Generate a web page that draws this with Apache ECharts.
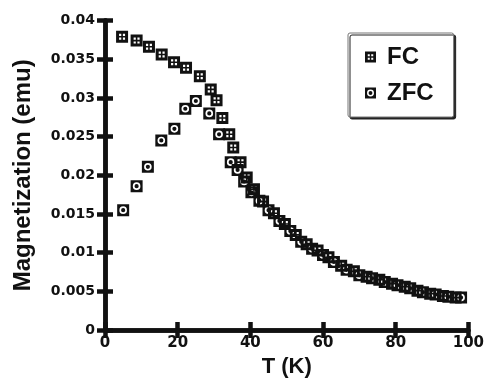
<!DOCTYPE html>
<html>
<head>
<meta charset="utf-8">
<script src="https://cdn.jsdelivr.net/npm/echarts@6/dist/echarts.min.js"></script>
<style>html,body{margin:0;padding:0;background:#fff;}#c{width:487px;height:383px;}</style>
</head>
<body>
<div id="c"></div>
<script>
// FC data (temperature K, magnetization emu)
var fcT = [4.7, 8.7, 12.1, 15.6, 19.0, 22.3, 26.1, 29.1, 30.7, 32.3, 34.2, 35.3, 37.3, 39.0, 41.0, 43.5, 46.5, 49.5, 52.5, 55.5, 58.5, 61.5, 65.0, 68.5, 72.0, 75.5, 79.0, 82.5, 86.0, 89.5, 93.0, 96.5];
var fcM = [0.0379, 0.0374, 0.0366, 0.0356, 0.0346, 0.0339, 0.0328, 0.0311, 0.0297, 0.0274, 0.0253, 0.0236, 0.0217, 0.0197, 0.0182, 0.0166, 0.0151, 0.0137, 0.0123, 0.0111, 0.0103, 0.0094, 0.0083, 0.0076, 0.0069, 0.0065, 0.0060, 0.0056, 0.0051, 0.0047, 0.0044, 0.0042];
// ZFC data
var zfcT = [5.0, 8.7, 11.8, 15.5, 19.1, 22.1, 25.0, 28.7, 31.4, 34.6, 36.5, 38.3, 40.3, 42.5, 45.0, 48.0, 51.0, 54.0, 57.0, 60.0, 63.0, 66.5, 70.0, 73.5, 77.0, 80.5, 84.0, 87.5, 91.0, 94.5, 98.0];
var zfcM = [0.0155, 0.0186, 0.0211, 0.0245, 0.0260, 0.0286, 0.0296, 0.0280, 0.0253, 0.0217, 0.0207, 0.0192, 0.0178, 0.0167, 0.0155, 0.0141, 0.0128, 0.0114, 0.0105, 0.0097, 0.0088, 0.0078, 0.0071, 0.0067, 0.0062, 0.0058, 0.0054, 0.0049, 0.0046, 0.0043, 0.0042];
// axis ticks
var xTicks = [0, 20, 40, 60, 80, 100];
var yTicks = [0, 0.005, 0.01, 0.015, 0.02, 0.025, 0.03, 0.035, 0.04];

function zip(a, b) { return a.map(function (v, i) { return [v, b[i]]; }); }

var ink = '#111';
var fcSymbol = 'path://M0,0L12,0L12,12L0,12Z M3,3L3,5.2L5.2,5.2L5.2,3Z M6.8,3L6.8,5.2L9,5.2L9,3Z M3,6.8L3,9L5.2,9L5.2,6.8Z M6.8,6.8L6.8,9L9,9L9,6.8Z';
var zfcSymbol = 'path://M0,0L12,0L12,12L0,12Z M6,2.2A3.8,3.8 0 1 0 6,9.8A3.8,3.8 0 1 0 6,2.2Z M6,3.9A2.1,2.1 0 1 1 6,8.1A2.1,2.1 0 1 1 6,3.9Z';

var axisCommon = {
  min: 0,
  axisLine: { show: true, lineStyle: { color: ink, width: 4.5 } },
  axisTick: { show: true, inside: true, length: 8, lineStyle: { color: ink, width: 4.5 } },
  splitLine: { show: false }
};

var chart = echarts.init(document.getElementById('c'), null, { renderer: 'canvas' });
chart.setOption({
  animation: false,
  backgroundColor: '#fff',
  grid: { left: 105, right: 16.5, top: 20.5, bottom: 42, containLabel: false },
  xAxis: [
    Object.assign({}, axisCommon, {
      type: 'value', max: 100, interval: 20, position: 'bottom',
      name: 'T (K)', nameLocation: 'middle', nameGap: 20,
      nameTextStyle: { fontFamily: 'Liberation Sans', fontWeight: 'bold', fontSize: 22, color: ink },
      axisLabel: { margin: 6, fontFamily: 'DejaVu Sans', fontWeight: 'bold', fontSize: 15, color: ink,
        formatter: function (v) { return xTicks.indexOf(v) >= 0 ? String(v) : ''; } }
    }),
    Object.assign({}, axisCommon, {
      type: 'value', max: 100, interval: 20, position: 'top',
      axisLabel: { show: false }
    })
  ],
  yAxis: [
    Object.assign({}, axisCommon, {
      type: 'value', max: 0.04, interval: 0.005, position: 'left',
      name: 'Magnetization (emu)', nameLocation: 'middle', nameGap: 70, nameRotate: 90,
      nameTextStyle: { fontFamily: 'Liberation Sans', fontWeight: 'bold', fontSize: 24, color: ink },
      axisLabel: { margin: 10, fontFamily: 'DejaVu Sans', fontWeight: 'bold', fontSize: 14, color: ink,
        formatter: function (v) { var t = yTicks.filter(function (y) { return Math.abs(y - v) < 1e-9; }); return t.length ? String(t[0]) : ''; } }
    }),
    Object.assign({}, axisCommon, {
      type: 'value', max: 0.04, interval: 0.005, position: 'right',
      axisLabel: { show: false }
    })
  ],
  legend: {
    orient: 'vertical', left: 348, top: 33,
    data: ['FC', 'ZFC'],
    itemWidth: 11, itemHeight: 11, itemGap: 12,
    padding: [12, 20, 12, 17],
    backgroundColor: '#fff',
    borderColor: '#777', borderWidth: 1, borderRadius: 2,
    shadowColor: '#222', shadowBlur: 0, shadowOffsetX: 2, shadowOffsetY: 2,
    textStyle: { fontFamily: 'Liberation Sans', fontWeight: 'bold', fontSize: 24, lineHeight: 24, color: ink, padding: [0, 0, 0, 6] }
  },
  series: [
    { name: 'FC', type: 'scatter', xAxisIndex: 0, yAxisIndex: 0, symbol: fcSymbol, symbolSize: 12,
      itemStyle: { color: ink, opacity: 1 }, data: zip(fcT, fcM), z: 3 },
    { name: 'ZFC', type: 'scatter', xAxisIndex: 0, yAxisIndex: 0, symbol: zfcSymbol, symbolSize: 12,
      itemStyle: { color: ink, opacity: 1 }, data: zip(zfcT, zfcM), z: 2 }
  ]
});
</script>
</body>
</html>
